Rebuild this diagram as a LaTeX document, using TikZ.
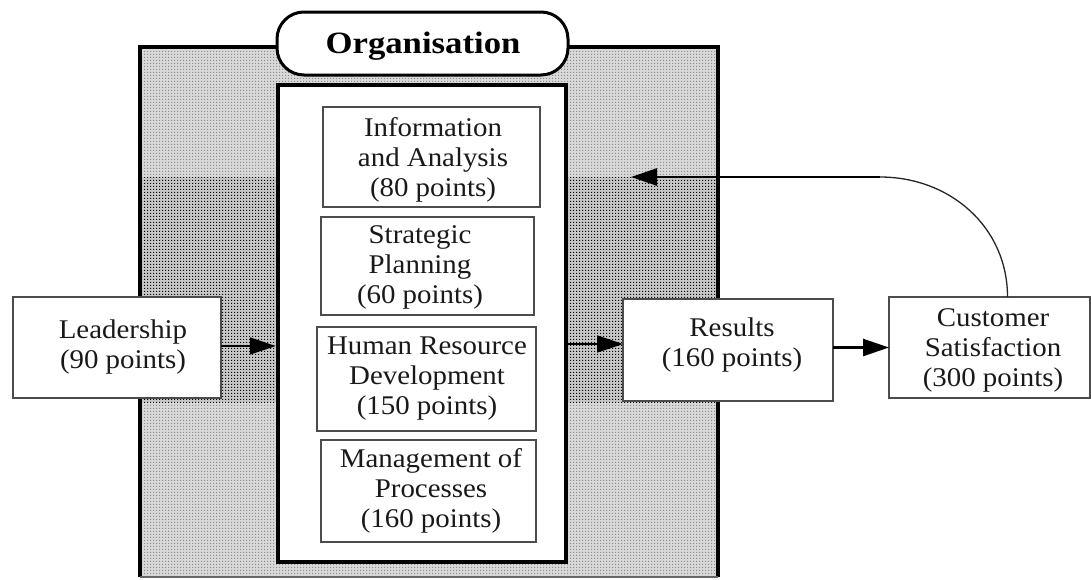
\documentclass[tikz,border=0pt]{standalone}
\usepackage{fontspec}
\setmainfont{Liberation Serif}[FakeStretch=1.07]
\newfontfamily\orgfont{Liberation Serif}[FakeStretch=1.12]
\usetikzlibrary{arrows.meta,patterns}
\pgfdeclarepatternformonly{darkdots}{\pgfpointorigin}{\pgfqpoint{3pt}{3pt}}{\pgfqpoint{3pt}{3pt}}{%
  \pgfpathrectangle{\pgfpointorigin}{\pgfqpoint{1.6pt}{1.6pt}}\pgfusepath{fill}}
\tikzset{
  box/.style={draw=black!70, line width=2pt, fill=white, inner sep=0pt, outer sep=0pt},
  txt/.style={font=\fontsize{27}{30}\selectfont, align=center, inner sep=0pt, text=black!90},
  arr/.style={-{Triangle[length=26pt,width=17pt]}, line width=2pt},
}
\begin{document}
\begin{tikzpicture}[x=1pt,y=-1pt]
\useasboundingbox (0,0) rectangle (1091,579);
% shaded organisation area
\fill[black!15] (140,47) rectangle (718,577);
\fill[pattern=darkdots, pattern color=black!45] (140,47) rectangle (718,577);
\fill[black!22] (140,177) rectangle (718,402);
\fill[pattern=darkdots, pattern color=black] (140,177) rectangle (718,402);
\draw[line width=4pt, black] (140,577) -- (140,47) -- (718,47) -- (718,577);
\draw[line width=2pt, black!60] (140,577) -- (718,577);
% title pill
\node[draw, line width=3pt, fill=white, rounded corners=27pt, minimum width=291pt, minimum height=63pt, inner sep=0pt] (org) at (422.5,43.5) {};
\node[font=\orgfont\bfseries\fontsize{31}{34}\selectfont, inner sep=0pt] (orgt) at (423,46) {Organisation};
% inner box
\node[draw, line width=4.5pt, fill=white, minimum width=288pt, minimum height=477pt, inner sep=0pt] (inner) at (422,323.5) {};
% criteria boxes
\node[box, minimum width=217pt, minimum height=100pt] (info) at (431.5,157) {};
\node[txt] (infot) at (433,160) {Information\\and Analysis\\(80 points)};
\node[box, minimum width=213pt, minimum height=98pt] (strat) at (427.5,266) {};
\node[txt] (stratt) at (420,267) {Strategic\\Planning\\(60 points)};
\node[box, minimum width=219pt, minimum height=104pt] (hrd) at (426.5,379) {};
\node[txt] (hrdt) at (427,379) {Human Resource\\Development\\(150 points)};
\node[box, minimum width=215pt, minimum height=102pt] (mop) at (428.5,491) {};
\node[txt] (mopt) at (431,491) {Management of\\Processes\\(160 points)};
% outer boxes
\node[box, minimum width=208pt, minimum height=101pt] (lead) at (117,347.5) {};
\node[txt] (leadt) at (123,347) {Leadership\\(90 points)};
\node[box, minimum width=210pt, minimum height=102pt] (res) at (728,350) {};
\node[txt] (rest) at (732,345) {Results\\(160 points)};
\node[box, minimum width=201pt, minimum height=101pt] (cust) at (989.5,347.5) {};
\node[txt] (custt) at (993,350) {Customer\\Satisfaction\\(300 points)};
% connectors
\draw[arr, line width=1.5pt] ([yshift=1.5pt]lead.east) -- ([yshift=1.5pt]lead.east -| inner.west);
\draw[arr, line width=1.5pt] ([yshift=6pt]res.west -| inner.east) -- ([yshift=6pt]res.west);
\draw[arr, line width=2.5pt] (res.east |- cust.west) -- (cust.west);
\coordinate (fbstart) at ([xshift=18pt]cust.north);
\coordinate (fbturn) at (880,177);
\coordinate (fbend) at (631,177);
\draw[line width=1.3pt, black!85] (fbstart) .. controls +(0,-70) and +(70,0) .. (fbturn);
\draw[arr, line width=2.5pt] (fbturn) -- (fbend);
\end{tikzpicture}
\end{document}
